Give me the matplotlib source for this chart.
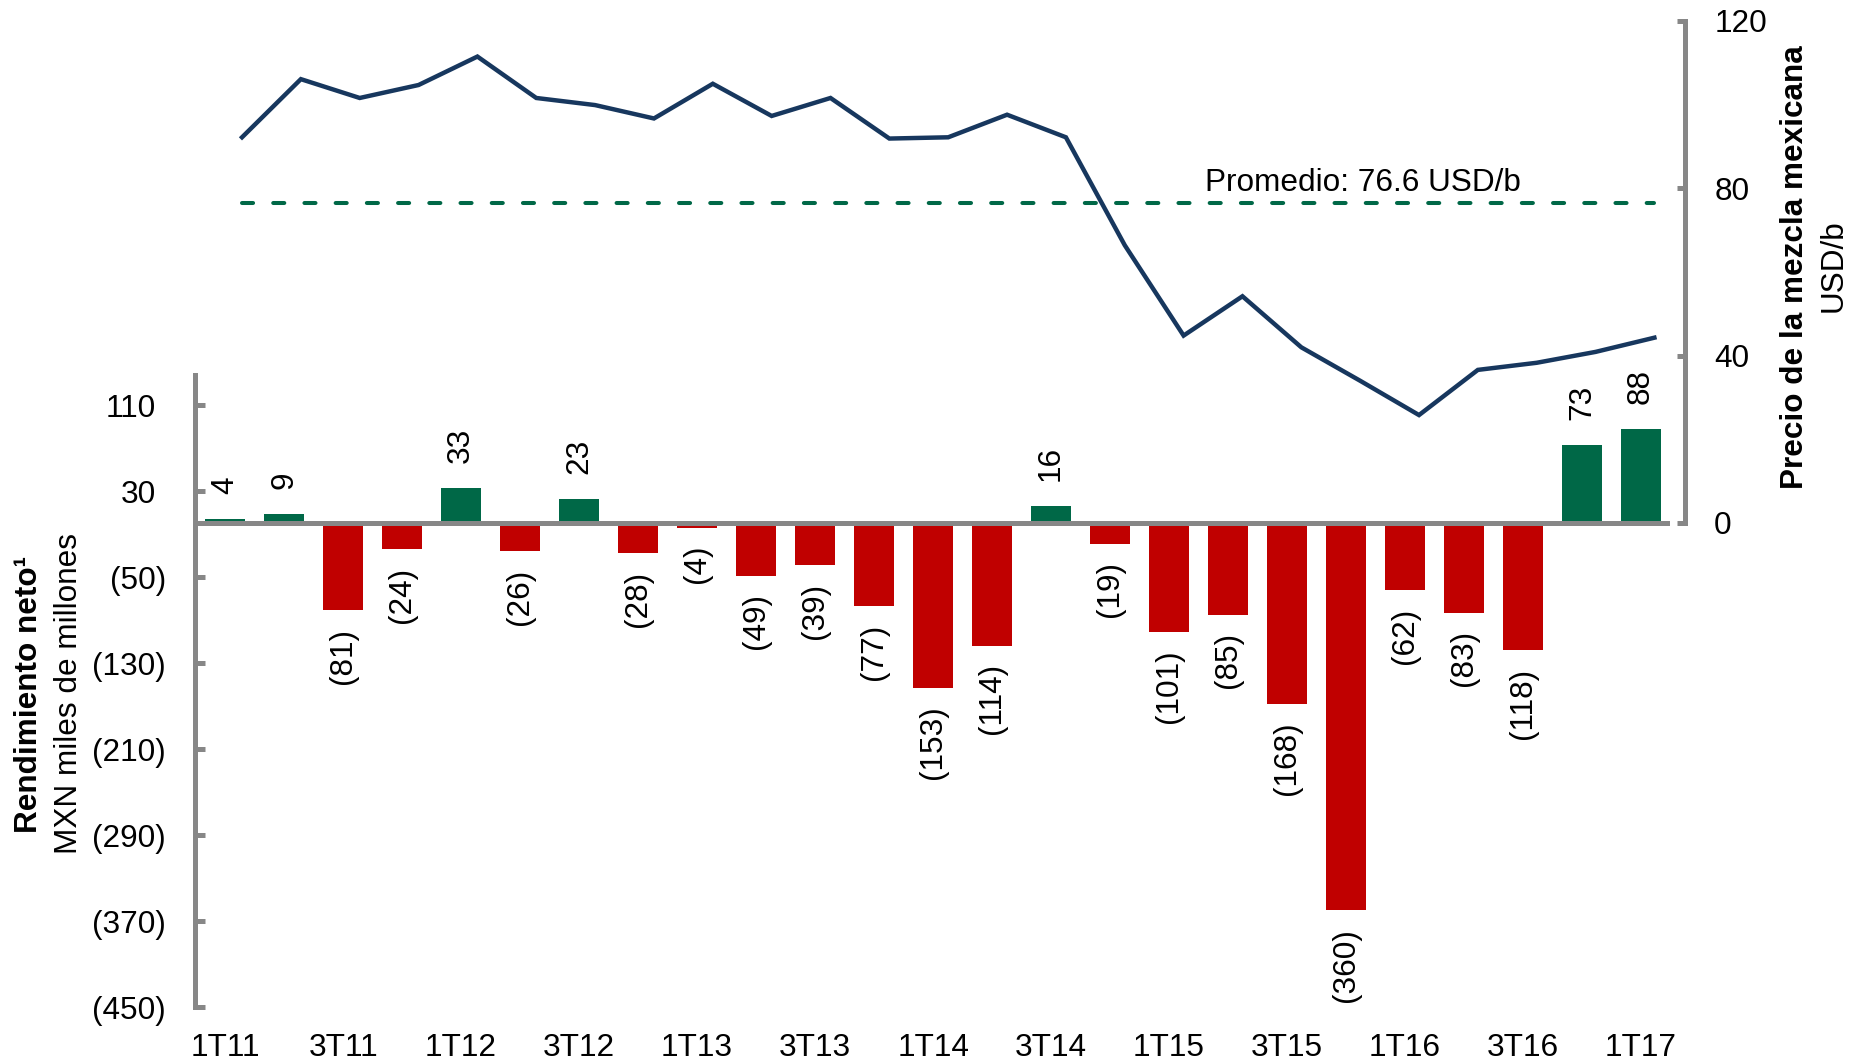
import matplotlib
matplotlib.use("Agg")
import matplotlib.pyplot as plt
from matplotlib.transforms import ScaledTranslation

plt.rcParams['font.family'] = ['Liberation Sans', 'DejaVu Sans']

# ---------------- data ----------------
quarters = ["1T11", "2T11", "3T11", "4T11", "1T12", "2T12", "3T12", "4T12",
            "1T13", "2T13", "3T13", "4T13", "1T14", "2T14", "3T14", "4T14",
            "1T15", "2T15", "3T15", "4T15", "1T16", "2T16", "3T16", "4T16", "1T17"]
rendimiento = [4, 9, -81, -24, 33, -26, 23, -28, -4, -49, -39, -77, -153, -114, 16,
               -19, -101, -85, -168, -360, -62, -83, -118, 73, 88]
precio = [92.2, 106.1, 101.6, 104.7, 111.5, 101.6, 99.9, 96.7, 105.0, 97.3, 101.6,
          91.9, 92.2, 97.6, 92.2, 66.4, 44.8, 54.2, 42.0, 34.0, 25.8, 36.6, 38.3,
          40.9, 44.3]
promedio = 76.6
left_ticks = [110, 30, -50, -130, -210, -290, -370, -450]
right_ticks = [0, 40, 80, 120]

# ---------------- style ----------------
RED = "#C00000"
GREEN = "#006847"
NAVY = "#17375E"
GRAY = "#878787"
FS = 22.7
SPW = 3.6

W, H = 1860, 1062
fig = plt.figure(figsize=(W / 100, H / 100), dpi=100)

# Bar axes
ax = fig.add_axes([195 / W, (H - 1007) / H, 1475 / W, 632 / H])
x = list(range(len(quarters)))
colors = [GREEN if v >= 0 else RED for v in rendimiento]
ax.bar(x, rendimiento, width=0.68, color=colors, zorder=2)
ax.set_xlim(-0.51, 24.49)
ax.set_ylim(-450, 138)
ax.axhline(0, color=GRAY, lw=SPW, zorder=3)
for s in ["top", "right", "bottom"]:
    ax.spines[s].set_visible(False)
ax.spines["left"].set_color(GRAY)
ax.spines["left"].set_linewidth(SPW)
ax.tick_params(axis="y", direction="in", length=7, width=SPW, color=GRAY,
               labelsize=FS, pad=21)
ax.tick_params(axis="x", length=0, labelsize=FS, pad=19)
ax.set_yticks(left_ticks, [f"({-v})" if v < 0 else f"{v}" for v in left_ticks])
ax.set_xticks(x[::2], quarters[::2])
for lbl, v in zip(ax.get_yticklabels(), left_ticks):
    if v >= 0:
        lbl.set_transform(lbl.get_transform() + ScaledTranslation(-7 / 72, 0, fig.dpi_scale_trans))

for xi, v in zip(x, rendimiento):
    if v >= 0:
        ax.annotate(f"{v}", (xi, v), xytext=(0, 18), textcoords="offset points",
                    rotation=90, ha="center", va="bottom", fontsize=FS)
    else:
        ax.annotate(f"({-v})", (xi, v), xytext=(0, -12.5), textcoords="offset points",
                    rotation=90, ha="center", va="top", fontsize=FS)

# Line axes
lax = fig.add_axes([195 / W, (H - 523) / H, 1490 / W, 502 / H])
lax.patch.set_visible(False)
lax.plot(x, precio, color=NAVY, lw=3.2, solid_joinstyle="miter", zorder=3)
lax.plot([x[0], x[-1]], [promedio, promedio], color=GREEN, lw=2.9,
         dashes=(2.75, 5), dash_capstyle="round", zorder=2)
lax.text(19.05, 79.3, f"Promedio: {promedio} USD/b", ha="center", va="baseline",
         fontsize=FS)
lax.set_xlim(-0.799, 24.52)
lax.set_ylim(0, 120)
for s in ["top", "left", "bottom"]:
    lax.spines[s].set_visible(False)
lax.spines["right"].set_color(GRAY)
lax.spines["right"].set_linewidth(SPW)
lax.set_xticks([])
lax.yaxis.tick_right()
lax.tick_params(axis="y", direction="in", length=6, width=SPW, color=GRAY,
                labelsize=FS, pad=21)
lax.set_yticks(right_ticks, [str(v) for v in right_ticks])

# Axis titles
fig.text(29 / W, 1 - 694 / H, "Rendimiento neto¹", rotation=90, ha="center",
         va="center", fontsize=FS, fontweight="bold")
fig.text(69 / W, 1 - 693 / H, "MXN miles de millones", rotation=90, ha="center",
         va="center", fontsize=FS)
fig.text(1795 / W, 1 - 267 / H, "Precio de la mezcla mexicana", rotation=90,
         ha="center", va="center", fontsize=FS, fontweight="bold")
fig.text(1834 / W, 1 - 266 / H, "USD/b", rotation=90, ha="center", va="center",
         fontsize=FS)

fig.savefig("out.png", dpi=100)
